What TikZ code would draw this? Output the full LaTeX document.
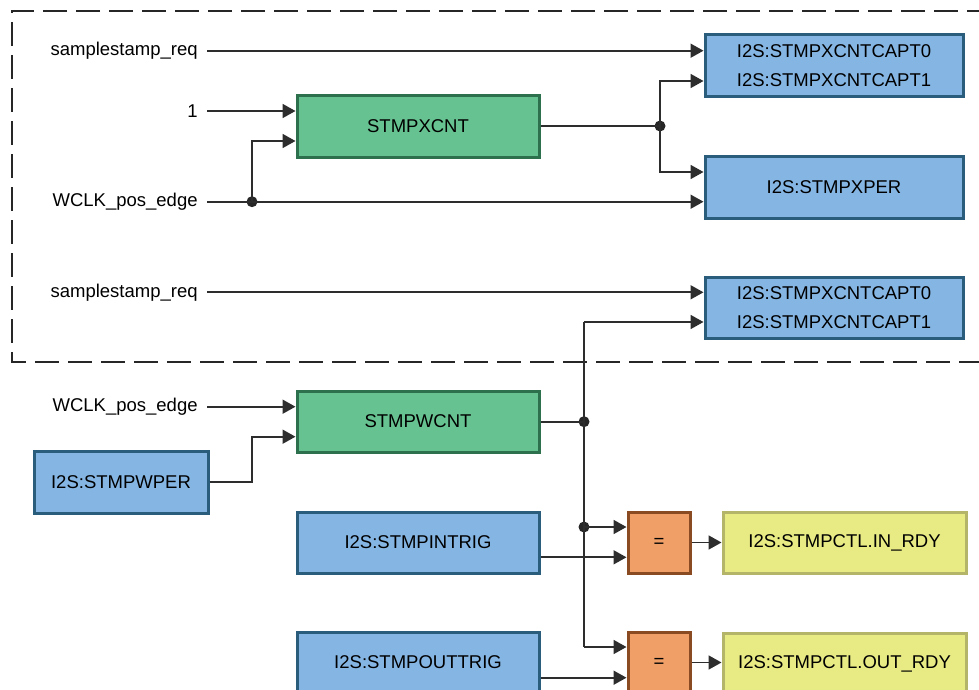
\documentclass[tikz,border=0pt]{standalone}
\usepackage{fontspec}
\setmainfont{Liberation Sans}
\usetikzlibrary{arrows.meta,calc}
\definecolor{gfill}{RGB}{102,194,144}
\definecolor{gline}{RGB}{45,112,78}
\definecolor{bfill}{RGB}{133,181,227}
\definecolor{bline}{RGB}{42,92,124}
\definecolor{ofill}{RGB}{240,159,103}
\definecolor{oline}{RGB}{138,74,34}
\definecolor{yfill}{RGB}{232,234,132}
\definecolor{yline}{RGB}{181,181,106}
\definecolor{wire}{RGB}{45,45,45}
\tikzset{
  base/.style={draw, line width=1.5pt, inner sep=0pt, font=\fontsize{9.25}{14.5}\selectfont, align=center, text=black},
  greenbox/.style={base, fill=gfill, draw=gline, minimum width=121pt, minimum height=30.5pt},
  bluebox/.style={base, fill=bfill, draw=bline},
  eqbox/.style={base, fill=ofill, draw=oline, minimum width=31pt, minimum height=30.5pt},
  ybox/.style={base, fill=yfill, draw=yline, minimum width=121.5pt, minimum height=30.5pt},
  lbl/.style={anchor=east, inner xsep=4.5pt, inner ysep=0pt, font=\fontsize{9.25}{11}\selectfont},
  wireline/.style={draw=wire, line width=0.9pt, -{Triangle[length=6.5pt,width=7pt]}},
  plain/.style={draw=wire, line width=0.9pt},
  dot/.style={circle, fill=black!85, inner sep=0pt, minimum size=5.5pt},
}
\begin{document}
\begin{tikzpicture}[x=0.5pt,y=-0.5pt]
\useasboundingbox (0,0) rectangle (979,690);
\begin{scope}
\clip (0,0) rectangle (979,690);
% dashed frame
\draw[line width=1.4pt, black!85, dash pattern=on 12pt off 4.5pt] (991,11) -- (12,11) -- (12,362) -- (991,362);

% boxes
\node[bluebox, minimum width=129pt, minimum height=31pt] (capA) at (834,66) {I2S:STMPXCNTCAPT0\\I2S:STMPXCNTCAPT1};
\node[greenbox] (xcnt) at (418,126.5) {STMPXCNT};
\node[bluebox, minimum width=129pt, minimum height=31pt] (xper) at (834,187) {I2S:STMPXPER};
\node[bluebox, minimum width=129pt, minimum height=30.5pt] (capB) at (834,307.5) {I2S:STMPXCNTCAPT0\\I2S:STMPXCNTCAPT1};
\node[greenbox] (wcnt) at (418,421.5) {STMPWCNT};
\node[bluebox, minimum width=87pt, minimum height=31pt] (wper) at (121,482) {I2S:STMPWPER};
\node[bluebox, minimum width=121pt, minimum height=30.5pt] (intrig) at (418,542.5) {I2S:STMPINTRIG};
\node[bluebox, minimum width=121pt, minimum height=30.5pt] (outtrig) at (418,662.5) {I2S:STMPOUTTRIG};
\node[eqbox] (eqA) at (659,542.5) {=};
\node[eqbox] (eqB) at (659,662.5) {=};
\node[ybox] (inrdy) at (844.5,542.5) {I2S:STMPCTL.IN\_RDY};
\node[ybox] (outrdy) at (844.5,663.5) {I2S:STMPCTL.OUT\_RDY};

% labels
\node[lbl] (sreqA) at (207,50.7) {samplestamp\_req};
\node[lbl] (one) at (207,111) {1};
\node[lbl] (wclkA) at (207,201.7) {WCLK\_pos\_edge};
\node[lbl] (sreqB) at (207,292.3) {samplestamp\_req};
\node[lbl] (wclkB) at (207,406.7) {WCLK\_pos\_edge};

% junctions
\node[dot] (jA) at (252,201.7) {};
\node[dot] (jB) at (660,126) {};
\node[dot] (jC) at (584,421.7) {};
\node[dot] (jD) at (584,527) {};
\coordinate (busTop) at (584,322);
\coordinate (busBot) at (584,647);

% upper block wiring
\path[wireline] (sreqA.east) -- (sreqA.east -| capA.west);
\path[wireline] (one.east) -- (one.east -| xcnt.west);
\path[wireline] (wclkA.east) -- (wclkA.east -| xper.west);
\path[wireline] (jA.center) -- (jA.center |- 0,141) -- (xcnt.west |- 0,141);
\path[plain] (xcnt.east |- jB) -- (jB.center);
\path[wireline] (jB.center) -- (jB.center |- 0,81) -- (capA.west |- 0,81);
\path[wireline] (jB.center) -- (jB.center |- 0,172) -- (xper.west |- 0,172);
\path[wireline] (sreqB.east) -- (sreqB.east -| capB.west);

% lower block wiring
\path[wireline] (busTop) -- (busTop -| capB.west);
\path[plain] (busTop) -- (busBot);
\path[plain] (wcnt.east |- jC) -- (jC.center);
\path[wireline] (wclkB.east) -- (wclkB.east -| wcnt.west);
\path[wireline] (wper.east) -- (252,482) -- (252,436.7) -- (wcnt.west |- 0,436.7);
\path[wireline] (jD.center) -- (jD.center -| eqA.west);
\path[wireline] (intrig.east |- 0,557.3) -- (eqA.west |- 0,557.3);
\path[wireline] (eqA.east) -- (eqA.east -| inrdy.west);
\path[wireline] (busBot) -- (busBot -| eqB.west);
\path[wireline] (outtrig.east |- 0,677.7) -- (eqB.west |- 0,677.7);
\path[wireline] (eqB.east) -- (eqB.east -| outrdy.west);
\end{scope}
\end{tikzpicture}
\end{document}
